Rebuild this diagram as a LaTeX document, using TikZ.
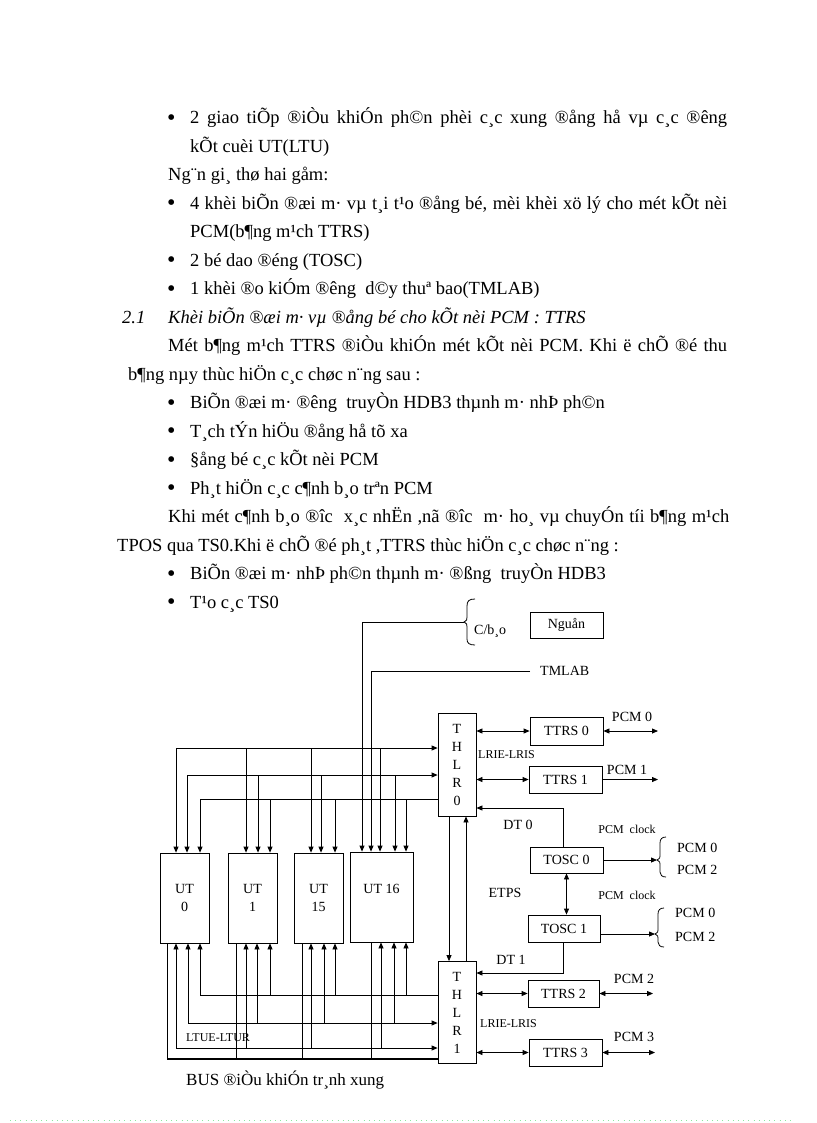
\documentclass[tikz,border=0pt]{standalone}
\usepackage{fontspec}
\setmainfont{Liberation Serif}
\usetikzlibrary{arrows.meta}
\begin{document}
\begin{tikzpicture}[x=1pt,y=-1pt,
  body/.style={anchor=base west,inner sep=0pt,font=\fontsize{18.5pt}{20pt}\selectfont},
  bodyit/.style={anchor=base west,inner sep=0pt,font=\fontsize{18.5pt}{20pt}\selectfont\itshape},
  bul/.style={anchor=base west,inner sep=0pt,font=\fontsize{24pt}{24pt}\selectfont},
  lbl/.style={inner sep=0pt,font=\fontsize{14pt}{18pt}\selectfont},
  sml/.style={inner sep=0pt,font=\fontsize{12pt}{14pt}\selectfont},
  blk/.style={draw,line width=0.8pt,inner sep=0pt,font=\fontsize{14pt}{18pt}\selectfont,align=center},
  wire/.style={line width=0.8pt},
  arr/.style={wire,-{Triangle[length=6pt,width=5pt]}},
  darr/.style={wire,{Triangle[length=6pt,width=5pt]}-{Triangle[length=6pt,width=5pt]}},
  busline/.style={line width=1.8pt},
  brc/.style={line width=0.8pt},
]
\fill[white] (0,0) rectangle (816,1123);
\useasboundingbox (0,0) rectangle (816,1123);

% ---------------- body text ----------------
\node[bul] (b1) at (167,125.5) {\textbullet};
\node[body] (t1) at (190,124.0) {\makebox[537pt][s]{2 giao tiÕp ®iÒu khiÓn ph©n phèi c¸c xung ®ång hå vµ c¸c ®êng}};
\node[body] (t2) at (190,152.5) {kÕt cuèi UT(LTU)};
\node[body] (t3) at (168,180.9) {Ng¨n gi¸ thø hai gåm:};
\node[bul] (b4) at (167,210.9) {\textbullet};
\node[body] (t4) at (190,209.4) {\makebox[537pt][s]{4 khèi biÕn ®æi m· vµ t¸i t¹o ®ång bé, mèi khèi xö lý cho mét kÕt nèi}};
\node[body] (t5) at (190,237.9) {PCM(b¶ng m¹ch TTRS)};
\node[bul] (b6) at (167,267.9) {\textbullet};
\node[body] (t6) at (190,266.4) {2 bé dao ®éng (TOSC)};
\node[bul] (b7) at (167,296.3) {\textbullet};
\node[body] (t7) at (190,294.8) {1 khèi ®o kiÓm ®êng \ d©y thuª bao(TMLAB)};
\node[bodyit] (t8a) at (122,323.3) {2.1};
\node[bodyit] (t8) at (168,323.3) {Khèi biÕn ®æi m· vµ ®ång bé cho kÕt nèi PCM : TTRS};
\node[body] (t9) at (168,351.8) {\makebox[559pt][s]{Mét b¶ng m¹ch TTRS ®iÒu khiÓn mét kÕt nèi PCM. Khi ë chÕ ®é thu}};
\node[body] (t10) at (128,380.2) {b¶ng nµy thùc hiÖn c¸c chøc n¨ng sau :};
\node[bul] (b11) at (167,410.2) {\textbullet};
\node[body] (t11) at (190,408.7) {BiÕn ®æi m· ®êng \ truyÒn HDB3 thµnh m· nhÞ ph©n};
\node[bul] (b12) at (167,438.7) {\textbullet};
\node[body] (t12) at (190,437.2) {T¸ch tÝn hiÖu ®ång hå tõ xa};
\node[bul] (b13) at (167,467.1) {\textbullet};
\node[body] (t13) at (190,465.6) {§ång bé c¸c kÕt nèi PCM};
\node[bul] (b14) at (167,495.6) {\textbullet};
\node[body] (t14) at (190,494.1) {Ph¸t hiÖn c¸c c¶nh b¸o trªn PCM};
\node[body] (t15) at (168,522.6) {\makebox[561pt][s]{Khi mét c¶nh b¸o ®îc \ x¸c nhËn ,nã ®îc \ m· ho¸ vµ chuyÓn tíi b¶ng m¹ch}};
\node[body] (t16) at (117,551.1) {TPOS qua TS0.Khi ë chÕ ®é ph¸t ,TTRS thùc hiÖn c¸c chøc n¨ng :};
\node[bul] (b17) at (167,581.0) {\textbullet};
\node[body] (t17) at (190,579.5) {BiÕn ®æi m· nhÞ ph©n thµnh m· ®ßng \ truyÒn HDB3};
\node[bul] (b18) at (167,609.5) {\textbullet};
\node[body] (t18) at (190,608.0) {T¹o c¸c TS0};

% ---------------- blocks ----------------
\node[blk,minimum width=73pt,minimum height=26pt] (ng) at (566.5,625) {Nguån};
\node[blk,minimum width=38pt,minimum height=103pt] (thlr0) at (457,764.5) {T\\H\\L\\R\\0};
\node[blk,minimum width=38pt,minimum height=102pt] (thlr1) at (457,1012.5) {T\\H\\L\\R\\1};
\node[blk,minimum width=49pt,minimum height=90pt] (ut0) at (184.5,898) {UT\\0};
\node[blk,minimum width=49pt,minimum height=90pt] (ut1) at (252.5,898) {UT\\1};
\node[blk,minimum width=49pt,minimum height=90pt] (ut15) at (318.5,898) {UT\\15};
\node[blk,minimum width=63pt,minimum height=90pt] (ut16) at (381.5,897) {};
\node[lbl] (ut16t) at (381.5,889) {UT 16};
\node[blk,minimum width=73pt,minimum height=28pt] (ttrs0) at (566.5,731) {TTRS 0};
\node[blk,minimum width=73pt,minimum height=27pt] (ttrs1) at (565.5,779.5) {TTRS 1};
\node[blk,minimum width=73pt,minimum height=26pt] (tosc0) at (566.5,860) {TOSC 0};
\node[blk,minimum width=72pt,minimum height=27pt] (tosc1) at (564,928.5) {TOSC 1};
\node[blk,minimum width=71pt,minimum height=27pt] (ttrs2) at (563.5,993.5) {TTRS 2};
\node[blk,minimum width=73pt,minimum height=27pt] (ttrs3) at (565.5,1052.5) {TTRS 3};

% ---------------- labels ----------------
\node[lbl,anchor=west] (cbao) at (474,631) {C/b¸o};
\node[lbl,anchor=west] (tmlab) at (540,671) {TMLAB};
\node[lbl] (lp0) at (632,717) {PCM 0};
\node[lbl] (lp1) at (627,770) {PCM 1};
\node[lbl] (lp2) at (634,979) {PCM 2};
\node[lbl] (lp3) at (634,1037) {PCM 3};
\node[sml,anchor=west] (lr0) at (478,755) {LRIE-LRIS};
\node[sml,anchor=west] (lr1) at (480,1024) {LRIE-LRIS};
\node[lbl] (dt0) at (518,825) {DT 0};
\node[lbl] (dt1) at (511,960) {DT 1};
\node[lbl] (etps) at (505,893) {ETPS};
\node[sml] (ck0l) at (627,829) {PCM \ clock};
\node[sml] (ck1l) at (627,895) {PCM \ clock};
\node[lbl,anchor=west] (c00) at (677,848) {PCM 0};
\node[lbl,anchor=west] (c02) at (677,870) {PCM 2};
\node[lbl,anchor=west] (c10) at (675,913) {PCM 0};
\node[lbl,anchor=west] (c12) at (675,937) {PCM 2};
\node[sml,anchor=west] (ltue) at (186,1038) {LTUE-LTUR};
\node[inner sep=0pt,anchor=west,font=\fontsize{17pt}{20pt}\selectfont] (bus) at (186,1080) {BUS ®iÒu khiÓn tr¸nh xung};

% ---------------- braces ----------------
\draw[brc] (475,599) .. controls (469,599) and (467,601) .. (467,606) -- (467,617)
  .. controls (467,620) .. (464,622) .. controls (467,624) .. (467,627) -- (467,639)
  .. controls (467,643) and (469,645) .. (475,645);
\draw[brc] (666,837) .. controls (662,837) and (660,839) .. (660,843) -- (660,856)
  .. controls (660,858) .. (657,860) .. controls (660,862) .. (660,864) -- (660,872)
  .. controls (660,875) and (662,877) .. (666,877);
\draw[brc] (664,908) .. controls (660,908) and (658,910) .. (658,914) -- (658,930)
  .. controls (658,932) .. (655,934) .. controls (658,936) .. (658,938) -- (658,942)
  .. controls (658,945) and (660,947) .. (664,947);

% ---------------- coordinates ----------------
\coordinate (cbt) at (464,622);
\coordinate (cb) at (362,622);
\coordinate (tm) at (371,671);
\coordinate (A0) at (176,748); \coordinate (A1) at (246,748); \coordinate (A2) at (311,748); \coordinate (A3) at (380,748);
\coordinate (B0) at (187,775); \coordinate (B1) at (258,775); \coordinate (B2) at (321,775); \coordinate (B3) at (395,775);
\coordinate (C0) at (200,799); \coordinate (C1) at (270,799); \coordinate (C2) at (335,799); \coordinate (C3) at (406,799);
\coordinate (D0) at (200,995); \coordinate (D1) at (270,995); \coordinate (D2) at (335,995); \coordinate (D3) at (406,995);
\coordinate (E0) at (188,1023); \coordinate (E1) at (257,1023); \coordinate (E2) at (324,1023); \coordinate (E3) at (394,1023);
\coordinate (F0) at (176,1048); \coordinate (F1) at (246,1048); \coordinate (F2) at (311,1048); \coordinate (F3) at (381,1048);
\coordinate (G0) at (167,1059); \coordinate (G1) at (236,1059); \coordinate (G2) at (302,1059); \coordinate (G3) at (371,1059);
\coordinate (dt0c) at (563,808);
\coordinate (dt1c) at (563,973);
\coordinate (p0) at (658,731);
\coordinate (p1) at (658,779.5);
\coordinate (p2) at (653,993.5);
\coordinate (p3) at (655,1052.5);
\coordinate (k0) at (657,860);
\coordinate (k1) at (655,934);

% ---------------- connectors ----------------
\draw[arr] (cbt) -- (cb) -- (cb |- ut16.north);
\draw[arr] ([xshift=-10pt]tmlab.west) -- (tm) -- (tm |- ut16.north);

\draw[arr] (A0) -- (thlr0.west |- A0);
\draw[arr] (B0) -- (thlr0.west |- B0);
\draw[wire] (C0) -- (thlr0.west |- C0);
\foreach \i/\u in {0/ut0,1/ut1,2/ut15,3/ut16}{
  \draw[arr] (A\i) -- (A\i |- \u.north);
  \draw[arr] (B\i) -- (B\i |- \u.north);
  \draw[arr] (C\i) -- (C\i |- \u.north);
  \draw[arr] (D\i) -- (D\i |- \u.south);
  \draw[arr] (E\i) -- (E\i |- \u.south);
  \draw[arr] (F\i) -- (F\i |- \u.south);
  \draw[wire] (G\i) -- (G\i |- \u.south);
}
\draw[wire] (thlr1.west |- D0) -- (D0);
\draw[arr] (E0) -- (thlr1.west |- E0);
\draw[arr] (F0) -- (thlr1.west |- F0);
\draw[busline] (G0) -- (thlr1.west |- G0);

\draw[arr] ([xshift=-8pt]thlr0.south) -- ([xshift=-8pt]thlr1.north);
\draw[arr] ([xshift=9pt]thlr1.north) -- ([xshift=9pt]thlr0.south);

\draw[darr] (thlr0.east |- ttrs0.west) -- (ttrs0.west);
\draw[darr] (ttrs0.east) -- (p0);
\draw[darr] (thlr0.east |- ttrs1.west) -- (ttrs1.west);
\draw[arr] (ttrs1.east) -- (p1);
\draw[arr] ([xshift=-3.5pt]tosc0.north) -- (dt0c) -- (thlr0.east |- dt0c);
\draw[arr] (tosc0.east) -- (k0);
\draw[darr] (tosc0.south) -- (tosc0.south |- tosc1.north);
\draw[arr] (tosc1.east |- k1) -- (k1);
\draw[arr] ([xshift=-1pt]tosc1.south) -- (dt1c) -- (thlr1.east |- dt1c);
\draw[darr] (thlr1.east |- ttrs2.west) -- (ttrs2.west);
\draw[darr] (ttrs2.east) -- (p2);
\draw[darr] (thlr1.east |- ttrs3.west) -- (ttrs3.west);
\draw[darr] (ttrs3.east) -- (p3);

% ---------------- page foot dots ----------------
\draw[line width=1pt,color={rgb,255:red,140;green,230;blue,160},dash pattern=on 1pt off 4.2pt] (10,1120) -- (792,1120);
\end{tikzpicture}
\end{document}
